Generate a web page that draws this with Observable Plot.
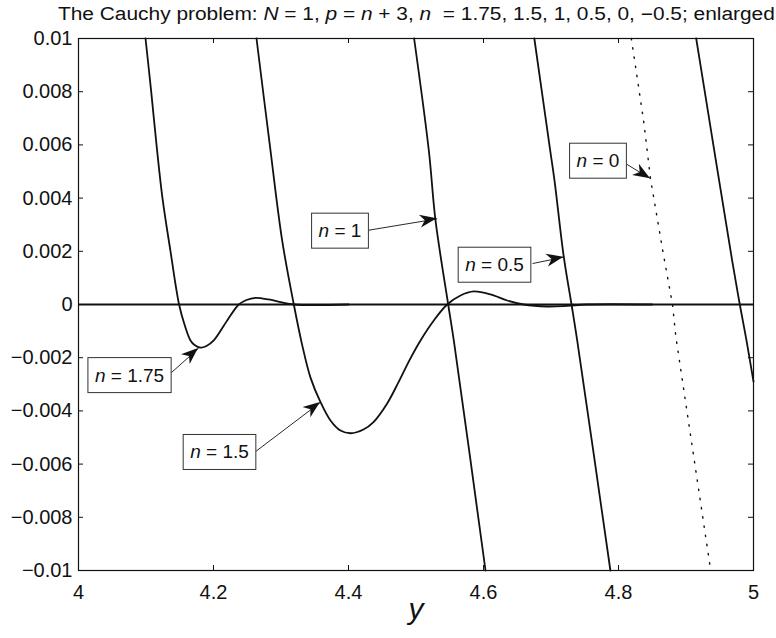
<!DOCTYPE html>
<html>
<head>
<meta charset="utf-8">
<script src="https://cdn.jsdelivr.net/npm/d3@7"></script>
<script src="https://cdn.jsdelivr.net/npm/@observablehq/plot@0.6"></script>
<style>
  body { margin: 0; background: #fff; font-family: "Liberation Sans", Arial, Helvetica, sans-serif; }
  #title { position: relative; width: 776px; height: 28px; line-height: 28px; font-size: 18px; color: #111; white-space: nowrap; }
  #title span { position: absolute; left: 58px; top: 0; transform-origin: 0 50%; transform: scaleX(1.16); }
</style>
</head>
<body>
<div id="title"><span>The Cauchy problem: <i>N</i>&nbsp;=&nbsp;1, <i>p</i>&nbsp;=&nbsp;<i>n</i>&nbsp;+&nbsp;3, <i>n</i>&nbsp;&nbsp;=&nbsp;1.75, 1.5, 1, 0.5, 0, −0.5; enlarged</span></div>
<div id="chart"></div>
<script>
// ---- data ----
const xTicks = [4, 4.2, 4.4, 4.6, 4.8, 5];
const yTicks = [-0.01, -0.008, -0.006, -0.004, -0.002, 0, 0.002, 0.004, 0.006, 0.008, 0.01];

const n175 = [[4.0993, 0.01], [4.1077, 0.008], [4.1156, 0.006], [4.1244, 0.004], [4.1363, 0.002],
  [4.1490, 0], [4.1575, -0.00079], [4.1659, -0.00135], [4.1719, -0.00152], [4.1807, -0.00162],
  [4.1896, -0.00156], [4.2004, -0.00135], [4.2203, -0.0006], [4.2375, 0], [4.2489, 0.00017],
  [4.2622, 0.00025], [4.2815, 0.00019], [4.2993, 0.00009], [4.3190, 0], [4.40, 0]];
const n15 = [[4.2637, 0.01], [4.2834, 0.006], [4.3017, 0.00241], [4.3190, 0], [4.3310, -0.00148], [4.3437, -0.00275],
  [4.3585, -0.00367], [4.3733, -0.00436], [4.3881, -0.00474], [4.4030, -0.00484], [4.4222, -0.0047],
  [4.4370, -0.00442], [4.4573, -0.00372], [4.4745, -0.0029], [4.4906, -0.00208], [4.5067, -0.00135],
  [4.5264, -0.0006], [4.5462, 0], [4.5659, 0.00034], [4.5856, 0.00049], [4.6104, 0.00038],
  [4.6351, 0.00015], [4.6593, 0], [4.6944, -0.000075], [4.7240, -0.00005], [4.7536, 0], [4.85, 0]];
const n1 = [[4.4972, 0.01], [4.5190, 0.00579], [4.5289, 0.00316], [4.5477, 0], [4.5560, -0.00135], [4.6030, -0.01]];
const n05 = [[4.6753, 0.01], [4.6988, 0.00579], [4.7052, 0.00466], [4.7190, 0.00178], [4.7304, 0], [4.7388, -0.00135], [4.7880, -0.01]];
const n0 = [[4.8190, 0.01], [4.8252, 0.00895], [4.8375, 0.00685], [4.8474, 0.00473], [4.8662, 0.00193], [4.8800, 0], [4.8849, -0.0012], [4.9366, -0.01]];
const nm05 = [[4.9151, 0.01], [4.9204, 0.00917], [4.9684, 0.00165], [4.9797, 0], [4.9896, -0.00135], [5.0, -0.0029]];

const labelText = ["n = 1.75", "n = 1.5", "n = 1", "n = 0.5", "n = 0"];
const labelX = [4.0756, 4.2089, 4.3874, 4.6163, 4.7696];
const labelY = [-0.00267, -0.00556, 0.00276, 0.00148, 0.00539];
const arrowX1 = [4.1363, 4.2607, 4.4267, 4.6726, 4.8104];
const arrowY1 = [-0.00259, -0.00556, 0.00278, 0.00154, 0.0053];
const arrowX2 = [4.1778, 4.3585, 4.5314, 4.7190, 4.8474];
const arrowY2 = [-0.00165, -0.00368, 0.00322, 0.00178, 0.00473];

// ---- layout ----
const W = 776, H = 610, mL = 78, mR = 23, mT = 10, mB = 68;
const innerW = W - mL - mR, innerH = H - mT - mB, tick = 5;
const ink = "#111";
const fmtY = d => d === 0 ? "0" : (d < 0 ? "\u2212" : "") + String(Math.abs(+d.toFixed(3)));
const fmtX = d => String(+d.toFixed(1));
const idx = labelText.map((_, i) => i);
const solid = {x: d => d[0], y: d => d[1], stroke: ink, strokeWidth: 1.8, curve: "catmull-rom"};

const chart = Plot.plot({
  width: W, height: H,
  marginLeft: mL, marginRight: mR, marginTop: mT, marginBottom: mB,
  style: {fontFamily: '"Liberation Sans", Arial, Helvetica, sans-serif', fontSize: "20px", color: ink, background: "#fff"},
  x: {domain: [4, 5], ticks: xTicks, tickFormat: fmtX, tickSize: 0, tickPadding: 14, label: null},
  y: {domain: [-0.01, 0.01], ticks: yTicks, tickFormat: fmtY, tickSize: 0, tickPadding: 6, label: null},
  marks: [
    Plot.ruleY([0], {stroke: ink, strokeWidth: 2}),
    Plot.line(n175, solid),
    Plot.line(n15, solid),
    Plot.line(n1, solid),
    Plot.line(n05, solid),
    Plot.line(n0, {x: d => d[0], y: d => d[1], stroke: ink, strokeWidth: 1.4, strokeDasharray: "1.4 7.9", curve: "linear"}),
    Plot.line(nm05, solid),
    Plot.link(idx, {x1: i => arrowX1[i], y1: i => arrowY1[i], x2: i => arrowX2[i], y2: i => arrowY2[i], stroke: ink, strokeWidth: 0.9}),
    Plot.text(idx, {x: i => labelX[i], y: i => labelY[i], text: i => labelText[i], fontSize: 19, fill: ink}),
    Plot.text(["y"], {frameAnchor: "bottom", dy: 48, text: d => d, fontSize: 30, fontStyle: "italic", fill: ink}),
    Plot.tickX(xTicks, {x: d => d, insetBottom: innerH - tick, stroke: ink}),
    Plot.tickX(xTicks, {x: d => d, insetTop: innerH - tick, stroke: ink}),
    Plot.tickY(yTicks, {y: d => d, insetRight: innerW - tick, stroke: ink}),
    Plot.tickY(yTicks, {y: d => d, insetLeft: innerW - tick, stroke: ink}),
    Plot.frame({stroke: ink, strokeWidth: 1.2})
  ]
});
document.getElementById("chart").append(chart);

// ---- label boxes (italic n) and filled arrow heads ----
const NS = "http://www.w3.org/2000/svg";
chart.querySelectorAll("text").forEach(t => {
  const s = t.textContent;
  if (!labelText.includes(s)) return;
  t.textContent = "";
  const a = document.createElementNS(NS, "tspan");
  a.setAttribute("font-style", "italic");
  a.textContent = "n";
  const b = document.createElementNS(NS, "tspan");
  b.textContent = s.slice(1);
  t.append(a, b);
  const bb = t.getBBox();
  const r = document.createElementNS(NS, "rect");
  r.setAttribute("x", bb.x - 7);
  r.setAttribute("y", bb.y - 7);
  r.setAttribute("width", bb.width + 14);
  r.setAttribute("height", bb.height + 14);
  r.setAttribute("fill", "#fff");
  r.setAttribute("stroke", "#333");
  r.setAttribute("stroke-width", 1);
  if (t.getAttribute("transform")) r.setAttribute("transform", t.getAttribute("transform"));
  t.parentNode.insertBefore(r, t);
});
const sx = chart.scale("x"), sy = chart.scale("y");
const heads = document.createElementNS(NS, "g");
idx.forEach(i => {
  const x1 = sx.apply(arrowX1[i]), y1 = sy.apply(arrowY1[i]);
  const x2 = sx.apply(arrowX2[i]), y2 = sy.apply(arrowY2[i]);
  const len = Math.hypot(x2 - x1, y2 - y1), ux = (x2 - x1) / len, uy = (y2 - y1) / len;
  const vx = -uy, vy = ux, L = 17, Wd = 6.5, back = 5;
  const p = [[x2, y2], [x2 - L * ux + Wd * vx, y2 - L * uy + Wd * vy], [x2 - (L - back) * ux, y2 - (L - back) * uy], [x2 - L * ux - Wd * vx, y2 - L * uy - Wd * vy]];
  const path = document.createElementNS(NS, "path");
  path.setAttribute("d", "M" + p.map(q => q[0].toFixed(2) + "," + q[1].toFixed(2)).join("L") + "Z");
  path.setAttribute("fill", ink);
  heads.append(path);
});
chart.append(heads);
</script>
</body>
</html>
